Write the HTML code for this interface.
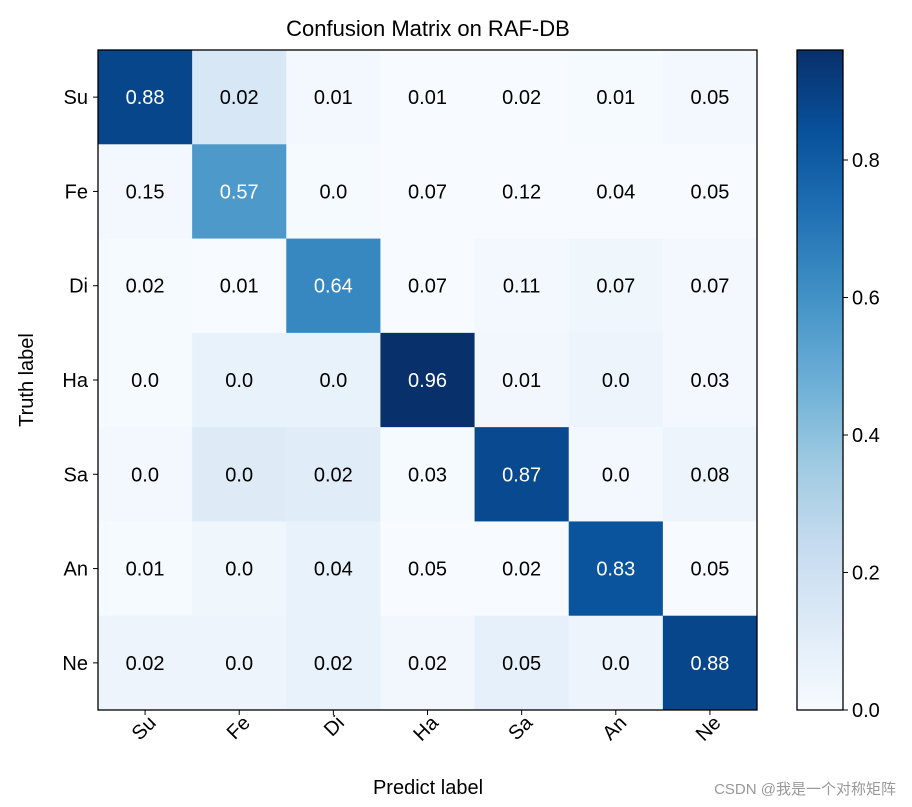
<!DOCTYPE html>
<html><head><meta charset="utf-8"><style>
html,body{margin:0;padding:0;background:#fff;}
svg{display:block;font-family:"Liberation Sans","DejaVu Sans",sans-serif;}
</style></head><body>
<svg id="chart" width="912" height="807" viewBox="0 0 912 807" xmlns="http://www.w3.org/2000/svg">
<defs>
<linearGradient id="cbar" x1="0" y1="1" x2="0" y2="0">
<stop offset="0" stop-color="#f7fbff"/><stop offset="0.125" stop-color="#deebf7"/><stop offset="0.25" stop-color="#c6dbef"/><stop offset="0.375" stop-color="#9ecae1"/><stop offset="0.5" stop-color="#6baed6"/><stop offset="0.625" stop-color="#4292c6"/><stop offset="0.75" stop-color="#2171b5"/><stop offset="0.875" stop-color="#08519c"/><stop offset="1" stop-color="#08306b"/>
</linearGradient>
</defs>
<text x="428" y="36" font-size="22" text-anchor="middle">Confusion Matrix on RAF-DB</text>
<g id="cells"></g>
<rect x="98" y="50" width="659" height="660" fill="none" stroke="#000" stroke-width="1.3"/>
<g id="axes"></g>
<text x="428" y="794" font-size="20" text-anchor="middle">Predict label</text>
<text transform="translate(33,380) rotate(-90)" font-size="20" text-anchor="middle">Truth label</text>
<rect x="797" y="50" width="46" height="660" fill="url(#cbar)" stroke="#000" stroke-width="1.3"/>
<g id="cbticks"></g>
<text x="896" y="794" font-size="15" fill="#999" text-anchor="end">CSDN @我是一个对称矩阵</text>
</svg>
<script>
const labels = ["Su","Fe","Di","Ha","Sa","An","Ne"];
const matrix = [
[0.88,0.02,0.01,0.01,0.02,0.01,0.05],
[0.15,0.57,0.0,0.07,0.12,0.04,0.05],
[0.02,0.01,0.64,0.07,0.11,0.07,0.07],
[0.0,0.0,0.0,0.96,0.01,0.0,0.03],
[0.0,0.0,0.02,0.03,0.87,0.0,0.08],
[0.01,0.0,0.04,0.05,0.02,0.83,0.05],
[0.02,0.0,0.02,0.02,0.05,0.0,0.88]
];
const cbTicks = [0.0,0.2,0.4,0.6,0.8];
const NS="http://www.w3.org/2000/svg";
const x0=98,y0=50,W=659,H=660,n=labels.length,cw=W/n,ch=H/n;
const vmax=Math.max(...matrix.flat());
const stops=["#f7fbff","#deebf7","#c6dbef","#9ecae1","#6baed6","#4292c6","#2171b5","#08519c","#08306b"].map(h=>[1,3,5].map(i=>parseInt(h.substr(i,2),16)));
function blues(t){t=Math.max(0,Math.min(1,t));const p=t*8,i=Math.min(7,Math.floor(p)),f=p-i;const c=stops[i].map((v,k)=>Math.round(v+(stops[i+1][k]-v)*f));return `rgb(${c})`;}
function xs(j){return x0+j*cw;} function ys(i){return y0+i*ch;}
function cbY(v){return 710-v/vmax*660;}
function fmt(v){const s=String(v);return s.indexOf(".")<0?s+".0":s;}
function mk(tag,attrs,parent,text){const e=document.createElementNS(NS,tag);for(const k in attrs)e.setAttribute(k,attrs[k]);if(text!==undefined)e.textContent=text;parent.appendChild(e);return e;}
const cells=document.getElementById("cells"),axes=document.getElementById("axes"),cbt=document.getElementById("cbticks");
matrix.forEach((row,i)=>row.forEach((v,j)=>{
 // shading in the reference follows the transposed matrix
 const shade=matrix[j][i];
 const r=mk("rect",{x:xs(j),y:ys(i),width:cw+0.5,height:ch+0.5,fill:blues(shade/vmax)},cells);
 
 
 const t=mk("text",{x:xs(j)+cw/2,y:ys(i)+ch/2+7,"font-size":20,"text-anchor":"middle",fill:v>vmax/2?"#fff":"#000"},cells,fmt(v));
 
 
}));
labels.forEach((l,k)=>{
 mk("line",{x1:93,x2:98,y1:ys(k)+ch/2,y2:ys(k)+ch/2,stroke:"#000"},axes);
 const ty=mk("text",{x:88,y:ys(k)+ch/2+7,"font-size":20,"text-anchor":"end"},axes,l);
 
 
 const cx=xs(k)+cw/2;
 mk("line",{x1:cx,x2:cx,y1:710,y2:715,stroke:"#000"},axes);
 const tx=mk("text",{transform:`translate(${cx+12},${724}) rotate(-45)`,"font-size":20,"text-anchor":"end"},axes,l);
 
 
});
cbTicks.forEach(v=>{
 const y=cbY(v);
 mk("line",{x1:843,x2:848,y1:y,y2:y,stroke:"#000"},cbt);
 const t=mk("text",{x:852,y:y+7,"font-size":20},cbt,v.toFixed(1));
 
 
});
</script>
</body></html>
